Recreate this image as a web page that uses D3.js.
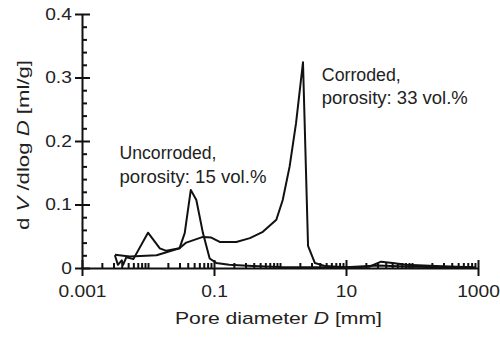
<!DOCTYPE html>
<html>
<head>
<meta charset="utf-8">
<script src="https://cdn.jsdelivr.net/npm/d3@7"></script>
<style>
  body { margin: 0; background: #fff; }
  text { font-family: "Liberation Sans", Arial, sans-serif; fill: #222; }
</style>
</head>
<body>
<div id="chart"></div>
<script>
// pore diameter D [mm] vs dV/dlogD [ml/g]
const uncorrodedD = [0.00315, 0.0035, 0.004, 0.0042, 0.0047, 0.006, 0.01, 0.0151, 0.019, 0.03, 0.036, 0.0445, 0.054, 0.068, 0.086, 0.108, 0.17, 0.38, 1.0, 3.0, 10, 30, 100, 300, 900];
const uncorrodedV = [0.020, 0.005, 0.012, 0.005, 0.017, 0.014, 0.0556, 0.031, 0.027, 0.031, 0.055, 0.123, 0.107, 0.055, 0.015, 0.008, 0.005, 0.003, 0.0015, 0.001, 0.001, 0.004, 0.002, 0.001, 0.001];

const corrodedD = [0.00315, 0.0053, 0.0135, 0.03, 0.038, 0.068, 0.091, 0.122, 0.218, 0.35, 0.55, 0.88, 1.1, 1.4, 1.75, 2.23, 2.66, 3.37, 4.9, 10, 22.5, 34, 50.7, 81, 230, 820];
const corrodedV = [0.021, 0.018, 0.020, 0.031, 0.040, 0.049, 0.048, 0.041, 0.041, 0.047, 0.057, 0.076, 0.107, 0.16, 0.228, 0.324, 0.035, 0.008, 0.003, 0.001, 0.002, 0.010, 0.008, 0.005, 0.003, 0.001];

const xMajorTicks = [0.001, 0.1, 10, 1000];
const xTickLabels = ['0.001', '0.1', '10', '1000'];
const yMajorTicks = [0, 0.1, 0.2, 0.3, 0.4];
const yTickLabels = ['0', '0.1', '0.2', '0.3', '0.4'];

const notes = [
  { lines: ['Uncorroded,', 'porosity: 15 vol.%'], widths: [97, 147], at: [0.0037, 0.171] },
  { lines: ['Corroded,', 'porosity: 33 vol.%'], widths: [79, 146], at: [4.3, 0.295] }
];

const W = 500, H = 337;
const stretch = 1.2; // the original lettering is wider than Liberation Sans

const svg = d3.select('#chart').append('svg')
  .attr('width', W)
  .attr('height', H);

const x = d3.scaleLog().domain([0.001, 1000]).range([82, 478]);
const y = d3.scaleLinear().domain([0, 0.4]).range([268, 14]);

// minor ticks: 1..9 x 10^k, skipping the labelled ones
const xMinor = [];
for (let k = -3; k < 3; k++) {
  for (let m = 1; m <= 9; m++) {
    const v = m * Math.pow(10, k);
    if (!xMajorTicks.some(t => Math.abs(t - v) / t < 1e-6)) xMinor.push(v);
  }
}
const yMinor = d3.range(0, 0.4001, 0.02).filter(v => !yMajorTicks.some(t => Math.abs(t - v) < 1e-6));

const axisStyle = g => {
  g.selectAll('path, line').attr('stroke', '#111').attr('stroke-width', 2);
  g.selectAll('text')
    .style('font-size', '16px')
    .attr('fill', '#222')
    .attr('transform', `scale(${stretch},1)`);
};

// x axis
svg.append('g')
  .attr('transform', `translate(0,${y(0)})`)
  .call(d3.axisTop(x).tickValues(xMinor).tickSize(5).tickFormat(''))
  .call(g => g.select('.domain').remove())
  .call(axisStyle);
svg.append('g')
  .attr('transform', `translate(0,${y(0)})`)
  .call(d3.axisTop(x).tickValues(xMajorTicks).tickSize(8).tickFormat(''))
  .call(g => g.select('.domain').remove())
  .call(axisStyle);
svg.append('g')
  .attr('transform', `translate(0,${y(0)})`)
  .call(d3.axisBottom(x).tickValues(xMajorTicks).tickSizeInner(8).tickSizeOuter(0).tickPadding(10)
    .tickFormat((d, i) => xTickLabels[i]))
  .call(axisStyle);

// y axis
svg.append('g')
  .attr('transform', `translate(${x(0.001)},0)`)
  .call(d3.axisRight(y).tickValues(yMinor).tickSize(5).tickFormat(''))
  .call(g => g.select('.domain').remove())
  .call(axisStyle);
svg.append('g')
  .attr('transform', `translate(${x(0.001)},0)`)
  .call(d3.axisRight(y).tickValues(yMajorTicks).tickSize(8).tickFormat(''))
  .call(g => g.select('.domain').remove())
  .call(axisStyle);
svg.append('g')
  .attr('transform', `translate(${x(0.001)},0)`)
  .call(d3.axisLeft(y).tickValues(yMajorTicks).tickSizeInner(7).tickSizeOuter(0).tickPadding(1.5)
    .tickFormat((d, i) => yTickLabels[i]))
  .call(axisStyle);

// curves
const line = d3.line()
  .x(d => x(d[0]))
  .y(d => y(d[1]));

[[uncorrodedD, uncorrodedV], [corrodedD, corrodedV]].forEach(([ds, vs]) => {
  svg.append('path')
    .datum(ds.map((d, i) => [d, vs[i]]))
    .attr('fill', 'none')
    .attr('stroke', '#111')
    .attr('stroke-width', 2)
    .attr('stroke-linejoin', 'round')
    .attr('d', line);
});

// annotations
notes.forEach(n => {
  n.lines.forEach((s, i) => {
    svg.append('text')
      .attr('x', x(n.at[0]))
      .attr('y', y(n.at[1]) + i * 23.5)
      .attr('textLength', n.widths[i])
      .attr('lengthAdjust', 'spacingAndGlyphs')
      .style('font-size', '18px')
      .text(s);
  });
});

// axis titles
const xt = svg.append('text')
  .attr('x', 175)
  .attr('y', 324)
  .attr('textLength', 207)
  .attr('lengthAdjust', 'spacingAndGlyphs')
  .style('font-size', '17px');
xt.append('tspan').text('Pore diameter ');
xt.append('tspan').style('font-style', 'italic').text('D');
xt.append('tspan').text(' [mm]');

const yt = svg.append('text')
  .attr('transform', 'translate(28.5,230) rotate(-90)')
  .attr('textLength', 170)
  .attr('lengthAdjust', 'spacingAndGlyphs')
  .style('font-size', '17px');
yt.append('tspan').text('d ');
yt.append('tspan').style('font-style', 'italic').text('V');
yt.append('tspan').text(' /dlog ');
yt.append('tspan').style('font-style', 'italic').text('D');
yt.append('tspan').text(' [ml/g]');
</script>
</body>
</html>
